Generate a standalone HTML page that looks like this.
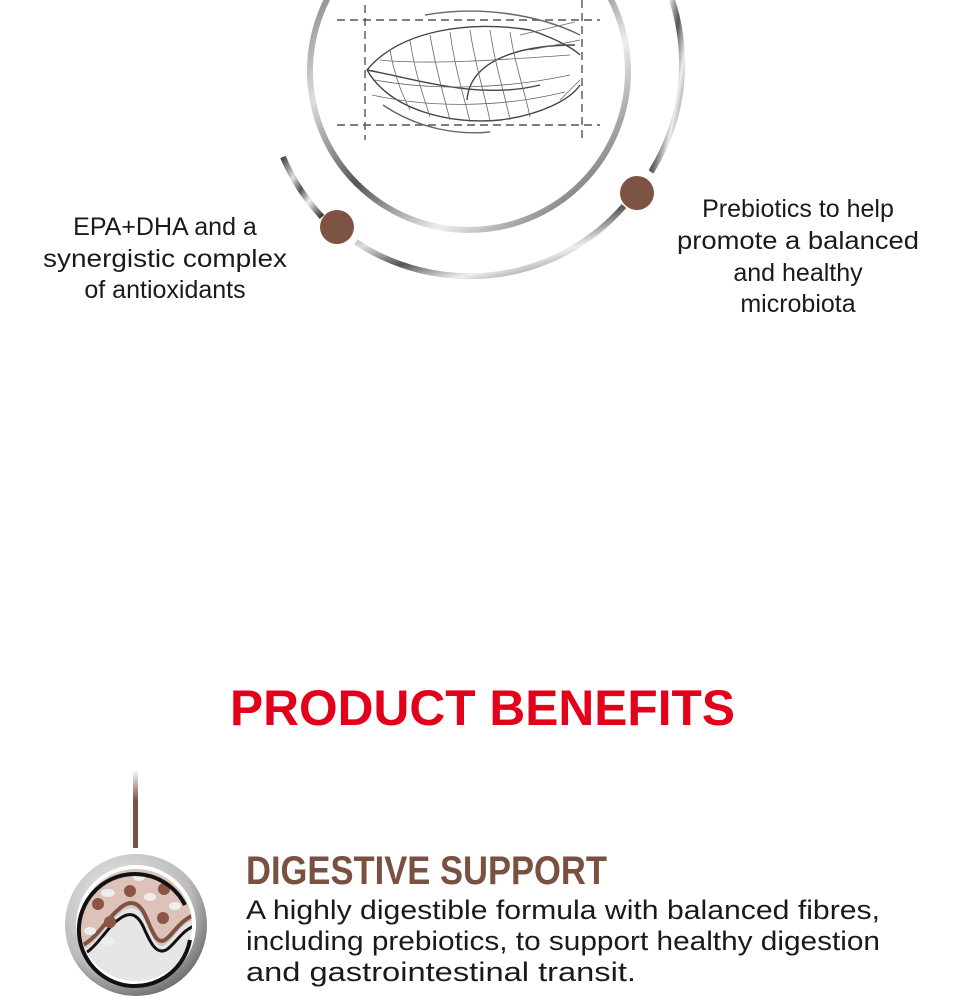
<!DOCTYPE html>
<html><head><meta charset="utf-8"><style>
html,body{margin:0;padding:0;background:#fff;width:960px;height:1000px;overflow:hidden}
text{font-family:"Liberation Sans",sans-serif}
</style></head><body>
<svg width="960" height="1000" viewBox="0 0 960 1000" xmlns="http://www.w3.org/2000/svg">
<defs>
<linearGradient id="met" x1="0" y1="0" x2="1" y2="1">
<stop offset="0" stop-color="#444"/><stop offset="0.3" stop-color="#ddd"/><stop offset="0.5" stop-color="#555"/><stop offset="0.7" stop-color="#eee"/><stop offset="1" stop-color="#333"/>
</linearGradient>
<linearGradient id="ln" x1="0" y1="0" x2="0" y2="1"><stop offset="0" stop-color="#fff"/><stop offset="0.4" stop-color="#7a5041"/><stop offset="1" stop-color="#7a5041"/></linearGradient>
<radialGradient id="ring" cx="0.4" cy="0.35" r="0.7"><stop offset="0" stop-color="#f4f4f4"/><stop offset="0.7" stop-color="#bbb"/><stop offset="1" stop-color="#666"/></radialGradient>
<clipPath id="inner"><circle cx="136" cy="925" r="56"/></clipPath>
</defs>
<circle cx="469" cy="71" r="159" fill="none" stroke="url(#met)" stroke-width="6"/>
<path d="M283 157 A205 205 0 0 0 322 217" fill="none" stroke="url(#met)" stroke-width="6"/>
<path d="M356 242 A205 205 0 0 0 624 206" fill="none" stroke="url(#met)" stroke-width="6"/>
<path d="M651 172 A205 205 0 0 0 672 0" fill="none" stroke="url(#met)" stroke-width="6"/>
<circle cx="337" cy="227" r="17" fill="#7f5344"/>
<circle cx="637" cy="193" r="17" fill="#7f5344"/>
<g fill="none" stroke="#444" stroke-width="1.4">
<path d="M367 70 C400 30 470 20 530 30 C560 40 575 50 580 55"/>
<path d="M367 70 C390 110 450 125 500 120 C540 115 570 100 580 85"/>
<path d="M367 70 C420 80 480 100 540 85"/>
<path d="M467 100 C470 60 520 45 575 45"/>
<path d="M337 20 H600 M337 125 H600 M365 5 V140 M582 0 V140" stroke-dasharray="8 5" stroke="#555"/>
<path d="M425 15 C480 5 540 15 580 35" stroke="#666"/>
<path d="M383 105 C420 130 460 135 490 132" stroke="#666"/>
</g>
<g stroke="#666" stroke-width="0.8" fill="none">
<path d="M390 50 C395 80 405 100 410 110 M410 40 C415 75 425 100 430 117 M430 35 C437 75 445 100 450 120 M450 32 C455 70 465 100 470 122 M470 30 C475 65 485 95 490 121 M490 30 C495 65 505 95 510 120 M510 32 C515 65 525 92 530 117 M380 60 C430 65 500 60 570 55 M375 80 C430 90 500 90 570 75 M372 95 C430 108 500 108 565 92 M520 35 L575 22 M530 50 L580 40 M560 100 L580 80"/>
</g>
<g font-size="25" fill="#1a1a1a" text-anchor="middle">
<text x="165" y="235">EPA+DHA and a</text>
<text x="165" y="267" textLength="244" lengthAdjust="spacingAndGlyphs">synergistic complex</text>
<text x="165" y="298">of antioxidants</text>
<text x="798" y="217">Prebiotics to help</text>
<text x="798" y="249" textLength="242" lengthAdjust="spacingAndGlyphs">promote a balanced</text>
<text x="798" y="281">and healthy</text>
<text x="798" y="312">microbiota</text>
</g>
<text x="230" y="725" font-size="50" font-weight="bold" fill="#e2001a" textLength="505" lengthAdjust="spacingAndGlyphs">PRODUCT BENEFITS</text>
<rect x="133" y="770" width="5" height="78" fill="url(#ln)"/>
<circle cx="136" cy="925" r="71" fill="url(#ring)"/>
<circle cx="136" cy="925" r="60" fill="#fff"/>
<g clip-path="url(#inner)">
<rect x="70" y="860" width="140" height="140" fill="#dcc2b8"/>
<path d="M70 955 C95 950 105 925 118 915 C128 905 138 905 145 920 C152 935 156 950 165 945 C175 938 180 922 200 918 L200 1000 L70 1000 Z" fill="#e6e6e6"/>
<path d="M70 950 C95 945 105 920 118 910 C128 900 138 900 145 915 C152 930 156 945 165 940 C175 933 180 918 200 913" fill="none" stroke="#7f5344" stroke-width="4"/>
<path d="M70 960 C95 955 105 928 118 920 C128 912 136 912 143 926 C150 942 156 955 166 950 C176 944 182 928 200 924" fill="none" stroke="#111" stroke-width="3"/>
<g fill="#8a5545"><circle cx="130" cy="891" r="6"/><circle cx="164" cy="889" r="6"/><circle cx="98" cy="904" r="6"/><circle cx="110" cy="922" r="6"/><circle cx="163" cy="918" r="6"/></g>
<g fill="#eee"><ellipse cx="108" cy="893" rx="7" ry="4"/><ellipse cx="139" cy="877" rx="6" ry="4"/><ellipse cx="150" cy="897" rx="6" ry="4"/><ellipse cx="175" cy="906" rx="6" ry="4"/><ellipse cx="90" cy="931" rx="6" ry="4"/><ellipse cx="108" cy="941" rx="7" ry="4"/></g>
</g>
<path d="M185 905 A56 56 0 1 0 190 940" fill="none" stroke="#111" stroke-width="4"/>
<text x="246" y="884" font-size="40" font-weight="bold" fill="#7a5041" textLength="361" lengthAdjust="spacingAndGlyphs">DIGESTIVE SUPPORT</text>
<g font-size="27" fill="#1a1a1a">
<text x="246" y="919" textLength="634" lengthAdjust="spacingAndGlyphs">A highly digestible formula with balanced fibres,</text>
<text x="246" y="950" textLength="634" lengthAdjust="spacingAndGlyphs">including prebiotics, to support healthy digestion</text>
<text x="246" y="981" textLength="390" lengthAdjust="spacingAndGlyphs">and gastrointestinal transit.</text>
</g>
</svg>
</body></html>
